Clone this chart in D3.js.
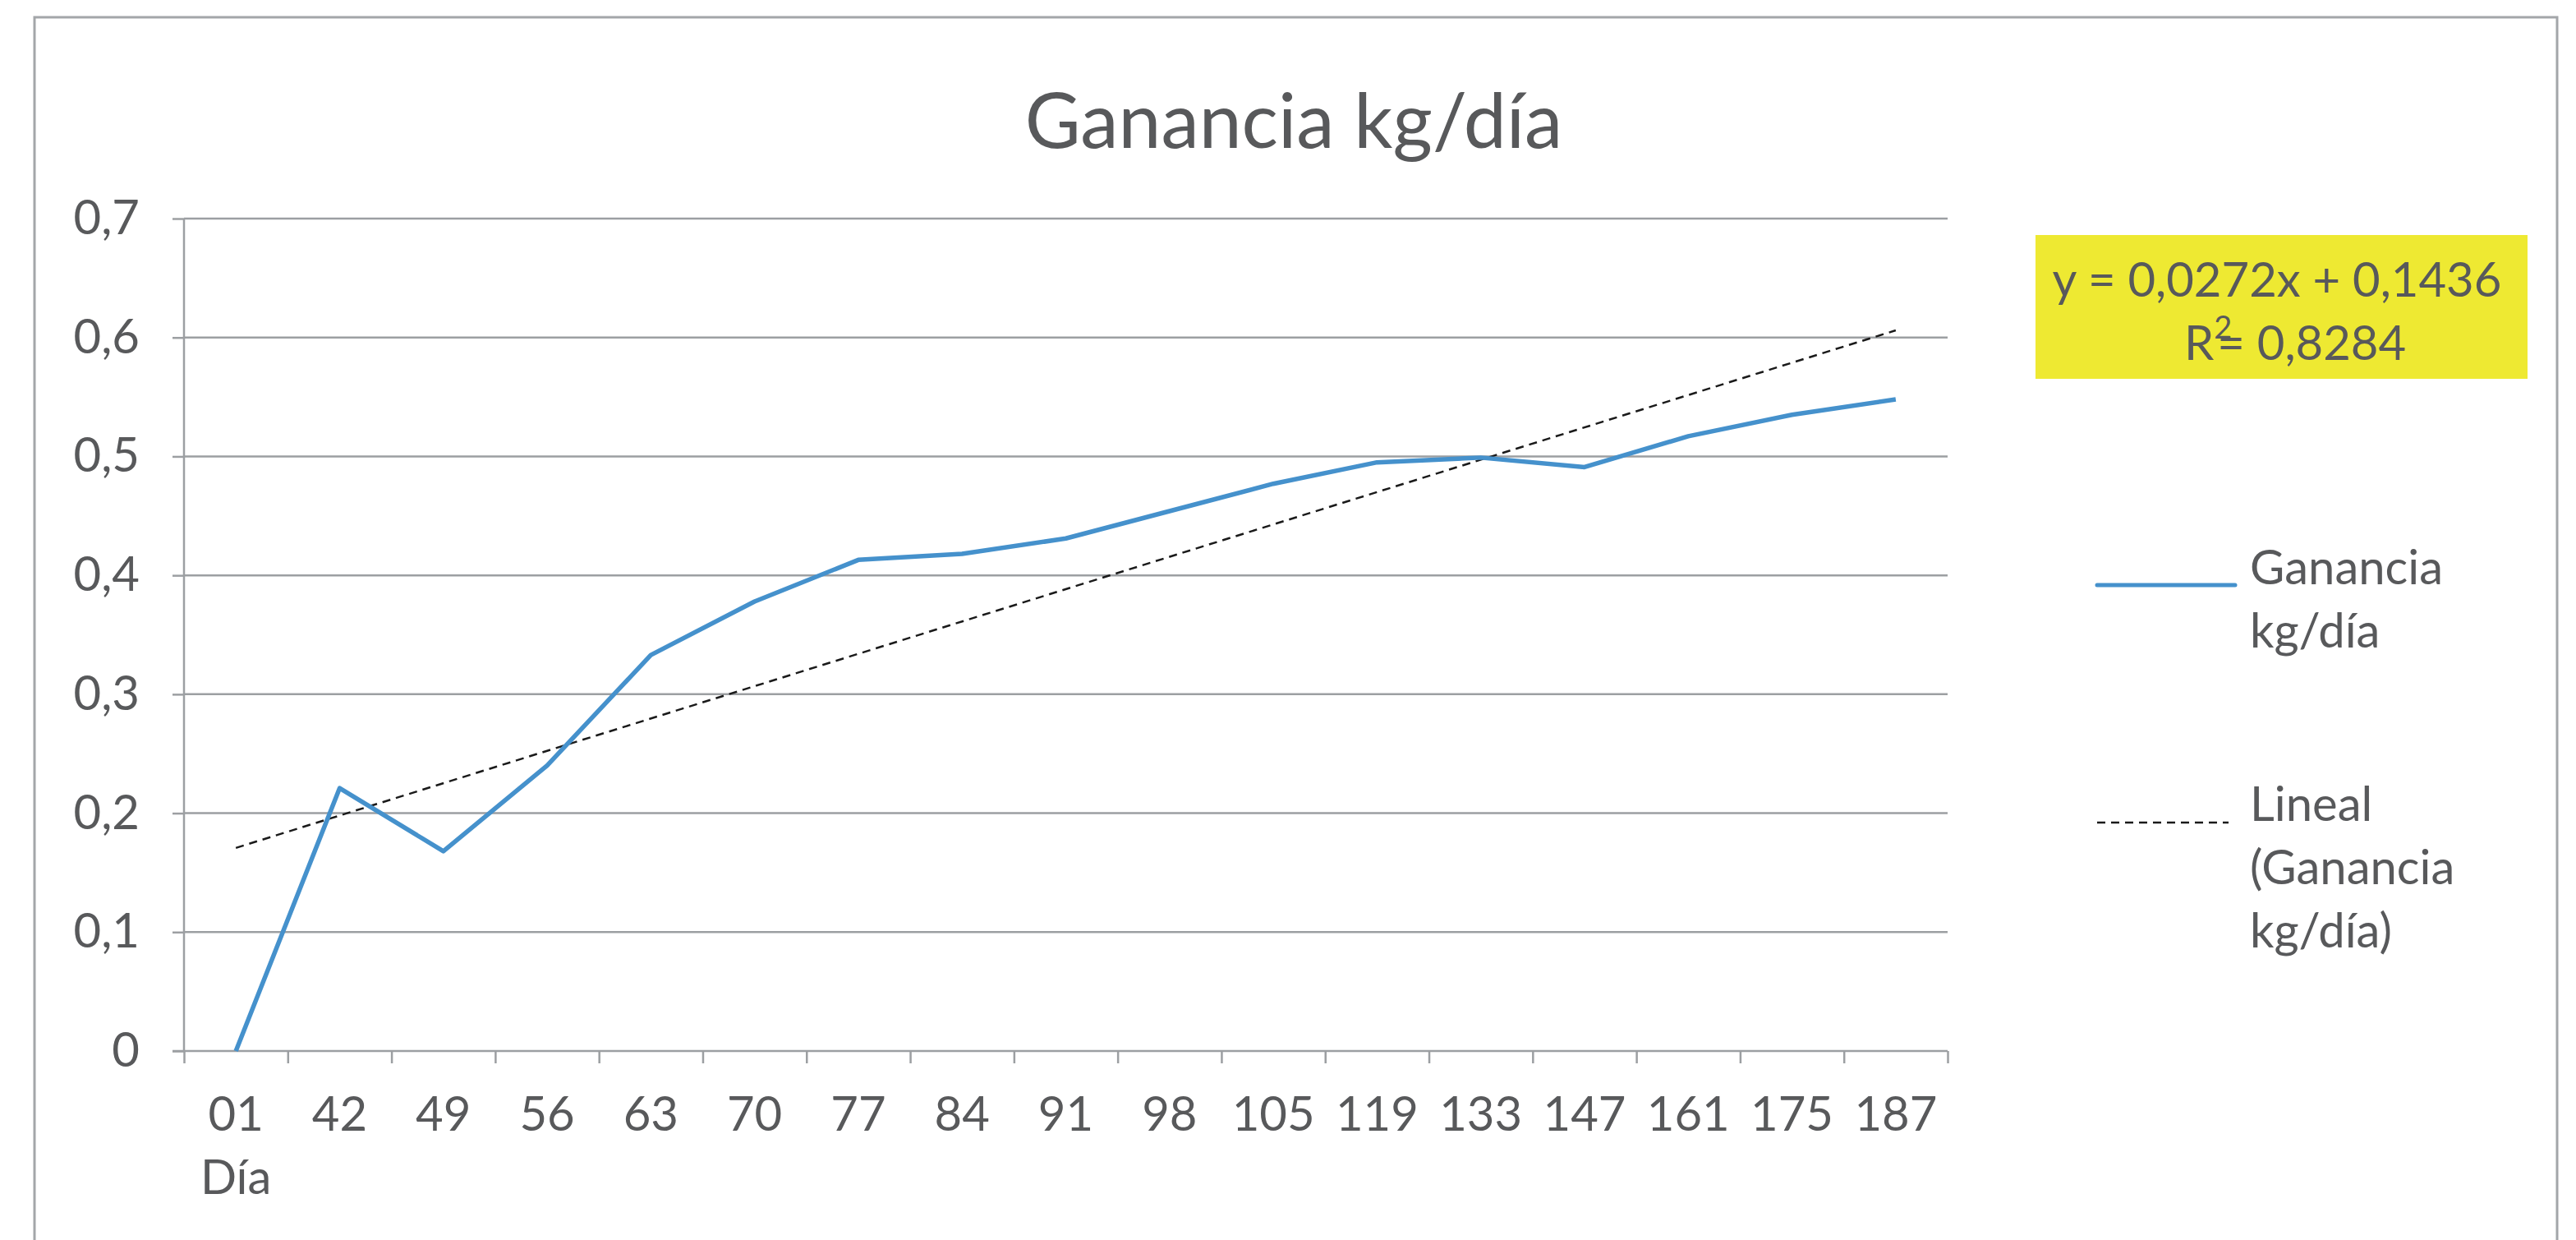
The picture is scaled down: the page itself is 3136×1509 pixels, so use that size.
<!DOCTYPE html>
<html>
<head>
<meta charset="utf-8">
<script src="https://cdn.jsdelivr.net/npm/d3@7"></script>
<style>
  body { margin: 0; background: #fff; }
  svg text { font-family: Lato, "Open Sans", sans-serif; fill: #58595b; }
</style>
</head>
<body>
<svg id="container"></svg>
<script>
// data
var dias = ["01 Día", "42", "49", "56", "63", "70", "77", "84", "91", "98", "105", "119", "133", "147", "161", "175", "187"];
var ganancia = [0, 0.221, 0.168, 0.240, 0.333, 0.378, 0.413, 0.418, 0.431, 0.454, 0.477, 0.495, 0.499, 0.491, 0.517, 0.535, 0.548];
var yTicks = [0, 0.1, 0.2, 0.3, 0.4, 0.5, 0.6, 0.7];
var pendiente = 0.0272, intercepto = 0.1436, r2 = "0,8284";

var W = 3136, H = 1509;
var svg = d3.select("#container").attr("width", W).attr("height", H);

// chart frame
svg.append("rect")
    .attr("x", 42).attr("y", 21)
    .attr("width", 3071).attr("height", 1600)
    .attr("fill", "none")
    .attr("stroke", "#a3a6a9")
    .attr("stroke-width", 3);

// title
svg.append("text")
    .attr("x", 1575).attr("y", 180)
    .attr("text-anchor", "middle")
    .style("font-size", "93px")
    .text("Ganancia kg/día");

// scales
var pLeft = 224, pRight = 2371, pBottom = 1279, pTop = 266;
var xEdge = d3.scaleLinear().domain([0, dias.length]).range([pLeft, pRight]);
var xBand = d3.scaleBand().domain(dias).range([pLeft, pRight]);
var xPos = d => xBand(d) + xBand.bandwidth() / 2;
var yScale = d3.scaleLinear().domain([0, 0.7]).range([pBottom, pTop]);

// y gridlines
svg.append("g")
    .selectAll("line")
    .data(yTicks.slice(1))
    .enter().append("line")
    .attr("x1", pLeft).attr("x2", pRight)
    .attr("y1", d => yScale(d)).attr("y2", d => yScale(d))
    .attr("stroke", "#9c9fa2")
    .attr("stroke-width", 2.5);

// y axis
var gY = svg.append("g")
    .attr("transform", "translate(" + pLeft + ",0)")
    .call(d3.axisLeft(yScale)
        .tickValues(yTicks)
        .tickSize(14)
        .tickPadding(40)
        .tickFormat(d => String(d).replace(".", ",")));
gY.selectAll("path, line").attr("stroke", "#9c9fa2").attr("stroke-width", 2.5);
gY.select(".domain").attr("d", "M-14," + pBottom + "H0V" + pTop);
gY.selectAll("text")
    .style("font-size", "58px")
    .style("font-family", "Lato, 'Open Sans', sans-serif")
    .attr("fill", "#58595b");

// x axis (ticks between categories)
var gX = svg.append("g")
    .attr("transform", "translate(0," + pBottom + ")")
    .call(d3.axisBottom(xEdge)
        .tickValues(d3.range(dias.length + 1))
        .tickSize(15)
        .tickFormat(""));
gX.selectAll("path, line").attr("stroke", "#9c9fa2").attr("stroke-width", 2.5);
gX.select(".domain").attr("d", "M" + pLeft + ",0H" + pRight);

// x labels
var xl = svg.append("g").selectAll("text")
    .data(dias)
    .enter().append("text")
    .attr("x", d => xPos(d))
    .attr("y", 1376)
    .attr("text-anchor", "middle")
    .style("font-size", "58px");
xl.each(function(d) {
    var parts = d.split(" ");
    var t = d3.select(this);
    parts.forEach((p, i) => {
        t.append("tspan")
            .attr("x", xPos(d))
            .attr("dy", i === 0 ? 0 : 77)
            .text(p);
    });
});

// trend line
var xs = [1, dias.length];
svg.append("line")
    .attr("x1", xPos(dias[0])).attr("x2", xPos(dias[dias.length - 1]))
    .attr("y1", yScale(pendiente * xs[0] + intercepto))
    .attr("y2", yScale(pendiente * xs[1] + intercepto))
    .attr("stroke", "#1a1a1a")
    .attr("stroke-width", 2.5)
    .attr("stroke-dasharray", "10,7");

// series line
var line = d3.line()
    .x((d, i) => xPos(dias[i]))
    .y(d => yScale(d));
svg.append("path")
    .datum(ganancia)
    .attr("d", line)
    .attr("fill", "none")
    .attr("stroke", "#4591cc")
    .attr("stroke-width", 5.5)
    .attr("stroke-linejoin", "round");

// equation box
svg.append("rect")
    .attr("x", 2478).attr("y", 286)
    .attr("width", 599).attr("height", 175)
    .attr("fill", "#eee932");
svg.append("text")
    .attr("x", 2772).attr("y", 361)
    .attr("text-anchor", "middle")
    .style("font-size", "58px")
    .text("y = " + String(pendiente).replace(".", ",") + "x + " + String(intercepto).replace(".", ","));
var rt = svg.append("text")
    .attr("x", 2794).attr("y", 438)
    .attr("text-anchor", "middle")
    .style("font-size", "58px");
rt.append("tspan").text("R");
rt.append("tspan").attr("dy", -26).style("font-size", "38px").text("2");
rt.append("tspan").attr("dx", -18).attr("dy", 26).text("= " + r2);

// legend
var legend = svg.append("g");
legend.append("line")
    .attr("x1", 2553).attr("x2", 2721)
    .attr("y1", 712).attr("y2", 712)
    .attr("stroke", "#4591cc")
    .attr("stroke-width", 5)
    .attr("stroke-linecap", "round");
legend.append("line")
    .attr("x1", 2553).attr("x2", 2713)
    .attr("y1", 1001).attr("y2", 1001)
    .attr("stroke", "#1a1a1a")
    .attr("stroke-width", 2.5)
    .attr("stroke-dasharray", "10,7");

var legendTexts = [
    {y: 711, lines: ["Ganancia", "kg/día"]},
    {y: 999, lines: ["Lineal", "(Ganancia", "kg/día)"]}
];
legendTexts.forEach(function(l) {
    var t = legend.append("text")
        .attr("x", 2739).attr("y", l.y)
        .style("font-size", "58px");
    l.lines.forEach((s, i) => {
        t.append("tspan").attr("x", 2739).attr("dy", i === 0 ? 0 : 77).text(s);
    });
});
</script>
</body>
</html>
